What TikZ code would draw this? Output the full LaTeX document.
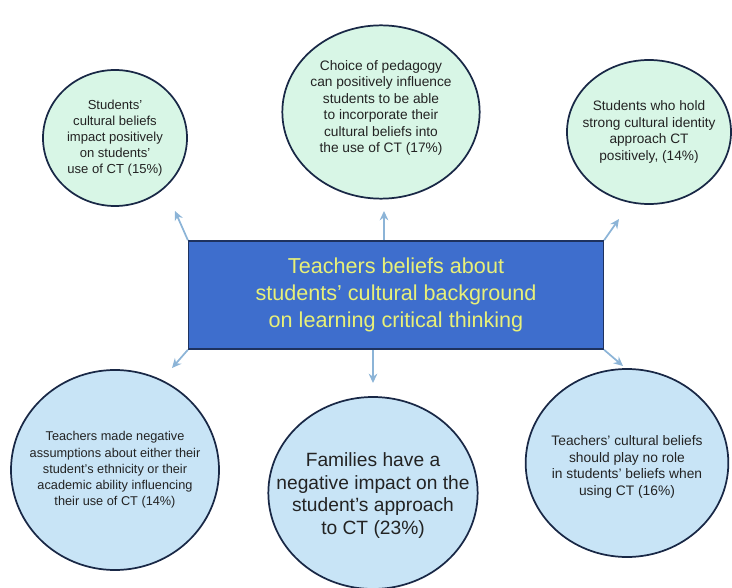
\documentclass[tikz,border=0pt]{standalone}
\usepackage{fontspec}
\setmainfont{Liberation Sans}
\usetikzlibrary{shapes.geometric,arrows.meta,positioning}

\definecolor{boxblue}{RGB}{62,110,205}
\definecolor{boxedge}{RGB}{30,50,95}
\definecolor{boxtext}{RGB}{232,240,120}
\definecolor{mint}{RGB}{216,246,230}
\definecolor{paleblue}{RGB}{200,228,246}
\definecolor{ringedge}{RGB}{25,40,70}
\definecolor{linkblue}{RGB}{140,180,215}
\definecolor{notetext}{RGB}{35,35,35}

\begin{document}
\begin{tikzpicture}[x=0.75pt,y=-0.75pt,
  upnote/.style={ellipse,draw=ringedge,line width=1.3pt,fill=mint,inner sep=0pt},
  downnote/.style={upnote,fill=paleblue},
  notetxt/.style={align=center,text=notetext,inner sep=0pt,font=\fontsize{9.8}{12}\selectfont},
  link/.style={-{Stealth[length=7pt,width=6.5pt]},draw=linkblue,line width=1.3pt}]
\useasboundingbox (0,0) rectangle (732,588);

% centre box
\node (beliefs) [draw=boxedge,line width=1.2pt,fill=boxblue,minimum width=311pt,minimum height=81pt,inner sep=0pt,align=center,text=boxtext,font=\fontsize{16.2}{20}\selectfont] at (396,295)
  {Teachers beliefs about\\students' cultural background\\ on learning critical thinking};

% upper notes
\node (studcult) [upnote,minimum width=108pt,minimum height=102pt,
  label={[notetxt]center:Students'\\cultural beliefs\\impact positively\\on students'\\use of CT (15\%)}] at (115,138) {};
\node (pedagogy) [upnote,minimum width=148pt,minimum height=130pt,
  label={[notetxt,yshift=3pt,font=\fontsize{10.3}{12.3}\selectfont]center:Choice of pedagogy\\can positively influence\\students to be able\\to incorporate their\\cultural beliefs into\\the use of CT (17\%)}] at (381,112) {};
\node (identity) [upnote,minimum width=123pt,minimum height=108pt,
  label={[notetxt,font=\fontsize{10.25}{12.3}\selectfont]center:Students who hold\\strong cultural identity\\approach CT\\positively, (14\%)}] at (649,132) {};

% lower notes
\node (assume) [downnote,minimum width=156pt,minimum height=150pt,
  label={[notetxt,font=\fontsize{9.55}{12.2}\selectfont]center:Teachers made negative\\assumptions about either their\\student's ethnicity or their\\academic ability influencing\\their use of CT (14\%)}] at (115,470) {};
\node (families) [downnote,minimum width=157pt,minimum height=144pt,
  label={[notetxt,yshift=-2pt,font=\fontsize{14.4}{17}\selectfont]center:Families have a\\negative impact on the\\student's approach\\to CT (23\%)}] at (373,493) {};
\node (norole) [downnote,minimum width=152pt,minimum height=141pt,
  label={[notetxt,yshift=-3pt,font=\fontsize{10.35}{12.5}\selectfont]center:Teachers' cultural beliefs\\should play no role\\in students' beliefs when\\using CT (16\%)}] at (627,463) {};

% arrow ends
\coordinate (tipA) at (175,211);
\coordinate (tipB) at (384,211);
\coordinate (tipC) at (619,219);
\coordinate (tipD) at (172,368);
\coordinate (tipE) at (373,383);
\coordinate (tipF) at (623,366);

\draw[link] (beliefs.north west) -- (tipA);
\draw[link] (tipB |- beliefs.north) -- (tipB);
\draw[link] (beliefs.north east) -- (tipC);
\draw[link] (beliefs.south west) -- (tipD);
\draw[link] (tipE |- beliefs.south) -- (tipE);
\draw[link] (beliefs.south east) -- (tipF);
\end{tikzpicture}
\end{document}
